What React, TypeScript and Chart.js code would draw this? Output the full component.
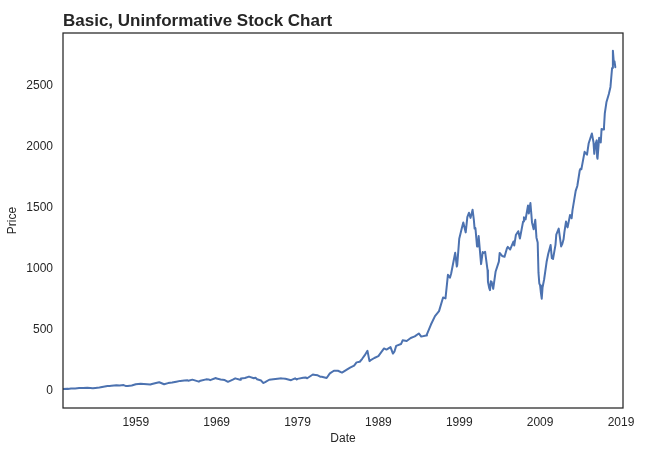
import React, { useEffect, useRef } from "react";
import { Chart, registerables } from "chart.js";

Chart.register(...registerables);

// fractional years (monthly-average S&P style series)
const dates: number[] = [
  1950.0, 1950.5, 1950.6, 1951.0, 1951.5, 1952.0, 1952.5, 1953.0, 1953.7, 1954.0,
  1954.5, 1955.0, 1955.5, 1955.8, 1956.0, 1956.6, 1957.0, 1957.5, 1957.8, 1958.0,
  1958.5, 1959.0, 1959.6, 1960.0, 1960.8, 1961.0, 1961.5, 1961.9, 1962.5, 1963.0,
  1963.5, 1964.0, 1964.5, 1965.0, 1965.4, 1965.5, 1966.0, 1966.8, 1967.0, 1967.7,
  1968.0, 1968.2, 1968.9, 1969.0, 1969.5, 1970.0, 1970.4, 1971.0, 1971.3, 1971.9,
  1972.0, 1972.5, 1973.0, 1973.6, 1973.8, 1974.0, 1974.5, 1974.75, 1975.0, 1975.5,
  1976.0, 1976.8, 1977.0, 1977.5, 1978.2, 1978.7, 1978.9, 1979.0, 1979.7, 1980.0,
  1980.2, 1980.9, 1981.0, 1981.5, 1981.8, 1982.0, 1982.6, 1983.0, 1983.5, 1984.0,
  1984.5, 1985.0, 1985.5, 1986.0, 1986.3, 1986.7, 1987.0, 1987.3, 1987.65, 1987.9,
  1988.0, 1988.5, 1989.0, 1989.7, 1990.0, 1990.5, 1990.8, 1991.0, 1991.2, 1991.8,
  1992.0, 1992.5, 1993.0, 1993.5, 1994.0, 1994.3, 1994.9, 1995.0, 1995.5, 1996.0,
  1996.5, 1997.0, 1997.3, 1997.6, 1997.85, 1998.0, 1998.5, 1998.7, 1998.75, 1999.0,
  1999.3, 1999.5, 1999.8, 2000.0, 2000.2, 2000.4, 2000.65, 2000.8, 2000.9, 2001.0,
  2001.2, 2001.3, 2001.4, 2001.7, 2001.9, 2002.0, 2002.2, 2002.5, 2002.55, 2002.7,
  2002.8, 2002.9, 2003.0, 2003.2, 2003.5, 2003.9, 2004.0, 2004.3, 2004.6, 2004.9,
  2005.0, 2005.3, 2005.7, 2005.8, 2006.0, 2006.3, 2006.5, 2006.9, 2007.0, 2007.2,
  2007.5, 2007.6, 2007.8, 2007.9, 2008.0, 2008.2, 2008.4, 2008.55, 2008.7, 2008.8,
  2008.9, 2009.0, 2009.1, 2009.2, 2009.3, 2009.5, 2009.8, 2010.0, 2010.3, 2010.45,
  2010.6, 2010.9, 2011.0, 2011.3, 2011.6, 2011.75, 2011.9, 2012.0, 2012.2, 2012.4,
  2012.7, 2012.9, 2013.0, 2013.4, 2013.6, 2013.9, 2014.0, 2014.1, 2014.5, 2014.8,
  2015.0, 2015.4, 2015.6, 2015.7, 2015.85, 2016.0, 2016.05, 2016.1, 2016.3, 2016.5,
  2016.6, 2016.8, 2016.9, 2017.0, 2017.2, 2017.5, 2017.7, 2017.9, 2018.0, 2018.1,
  2018.2, 2018.3,
];

const prices: number[] = [
  16.9, 18.4, 17.6, 21.2, 21.5, 24.1, 24.6, 26.2, 23.3, 25.5,
  29.2, 35.6, 41, 41.2, 44.2, 47.5, 45.4, 48.5, 40.4, 41.1,
  45.3, 55.6, 59.7, 58.0, 53.7, 58.0, 65.4, 71.7, 55.6, 65.1,
  69.9, 76.5, 83.2, 86.1, 88.6, 84.1, 93.3, 77.1, 84.5, 95.7,
  95.0, 89.1, 106.5, 102.0, 94.7, 90.3, 75.6, 93.5, 103.9, 92.8,
  103.3, 107.2, 118.4, 104.8, 109.8, 96.1, 86, 66.0, 72.6, 92.5,
  96.9, 103, 103.8, 100, 88.8, 103.9, 94.7, 99.7, 108, 110.9,
  104.7, 135.7, 133.0, 129, 118, 117, 107.1, 144.3, 166.4, 166.4,
  151.1, 171.6, 191.9, 208.2, 235, 240, 264.5, 292, 329.4, 245.0,
  250.5, 270.7, 285.4, 349.2, 340, 360.4, 307.1, 325.5, 370, 385,
  416, 410, 435, 448, 472, 446, 455, 465, 545, 614,
  655, 766, 759, 952, 928, 963, 1133, 1020, 1032, 1248,
  1330, 1381, 1300, 1425, 1461, 1419, 1485, 1406, 1331, 1336,
  1185, 1189, 1270, 1040, 1139, 1131, 1140, 990, 895, 845,
  827, 900, 895, 837, 980, 1060, 1132, 1107, 1100, 1170,
  1181, 1160, 1225, 1192, 1278, 1310, 1250, 1390, 1424, 1406,
  1520, 1455, 1540, 1463, 1380, 1326, 1403, 1257, 1217, 968,
  883, 865, 805, 757, 848, 916, 1057, 1123, 1197, 1089,
  1083, 1198, 1282, 1331, 1185, 1207, 1243, 1300, 1389, 1341,
  1443, 1416, 1480, 1640, 1680, 1807, 1822, 1817, 1960, 1937,
  2028, 2111, 2039, 1944, 2024, 2054, 1918, 1904, 2076, 2037,
  2148, 2143, 2164, 2275, 2366, 2434, 2492, 2647, 2789, 2705,
  2702, 2654,
];

const xTicks = [1959, 1969, 1979, 1989, 1999, 2009, 2019];
const yTicks = [0, 500, 1000, 1500, 2000, 2500];

const title = "Basic, Uninformative Stock Chart";
const ink = "#262626";

const framePlugin = {
  id: "frame",
  afterDraw(chart: any) {
    const { ctx, chartArea } = chart;
    ctx.save();
    ctx.strokeStyle = ink;
    ctx.lineWidth = 1.25;
    ctx.strokeRect(
      chartArea.left,
      chartArea.top,
      chartArea.right - chartArea.left,
      chartArea.bottom - chartArea.top
    );
    ctx.font = "bold 17px 'Liberation Sans', Arial, sans-serif";
    ctx.fillStyle = ink;
    ctx.textBaseline = "alphabetic";
    ctx.textAlign = "left";
    ctx.fillText(title, chartArea.left, 26);
    ctx.restore();
  },
};

export default function App() {
  const canvasRef = useRef<HTMLCanvasElement>(null);

  useEffect(() => {
    if (!canvasRef.current) return;
    const chart = new Chart(canvasRef.current, {
      type: "line",
      data: {
        datasets: [
          {
            data: dates.map((d, i) => ({ x: d, y: prices[i] })),
            borderColor: "#4C72B0",
            borderWidth: 2,
            borderJoinStyle: "round",
            borderCapStyle: "round",
            pointRadius: 0,
            tension: 0,
            fill: false,
          },
        ],
      },
      options: {
        animation: false,
        responsive: false,
        devicePixelRatio: 1,
        layout: { padding: { top: 33, right: 31, left: 0, bottom: 0 } },
        plugins: {
          legend: { display: false },
          tooltip: { enabled: false },
          title: { display: false },
        },
        scales: {
          x: {
            type: "linear",
            min: 1950.0,
            max: 2019.25,
            grid: { display: false, drawTicks: false },
            border: { display: false },
            afterBuildTicks: (axis: any) => {
              axis.ticks = xTicks.map((v) => ({ value: v }));
            },
            afterFit: (axis: any) => {
              axis.height = 51;
            },
            ticks: {
              padding: 7,
              color: ink,
              maxRotation: 0,
              font: { family: "'Liberation Sans', Arial, sans-serif", size: 12 },
              callback: (v: any) => String(v),
            },
            title: {
              display: true,
              text: "Date",
              color: ink,
              padding: { top: 0, bottom: 13 },
              font: { family: "'Liberation Sans', Arial, sans-serif", size: 12 },
            },
          },
          y: {
            type: "linear",
            min: -139,
            max: 2934,
            grid: { display: false, drawTicks: false },
            border: { display: false },
            afterBuildTicks: (axis: any) => {
              axis.ticks = yTicks.map((v) => ({ value: v }));
            },
            afterFit: (axis: any) => {
              axis.width = 63;
            },
            ticks: {
              padding: 10,
              color: ink,
              font: { family: "'Liberation Sans', Arial, sans-serif", size: 12 },
              callback: (v: any) => String(v),
            },
            title: {
              display: true,
              text: "Price",
              color: ink,
              padding: { top: 5, bottom: 0 },
              font: { family: "'Liberation Sans', Arial, sans-serif", size: 12 },
            },
          },
        },
      },
      plugins: [framePlugin],
    });
    return () => {
      chart.destroy();
    };
  }, []);

  return (
    <div
      style={{
        position: "fixed",
        left: 0,
        top: 0,
        width: 654,
        height: 459,
        background: "#fff",
      }}
    >
      <canvas ref={canvasRef} width={654} height={459} style={{ width: 654, height: 459 }} />
    </div>
  );
}
